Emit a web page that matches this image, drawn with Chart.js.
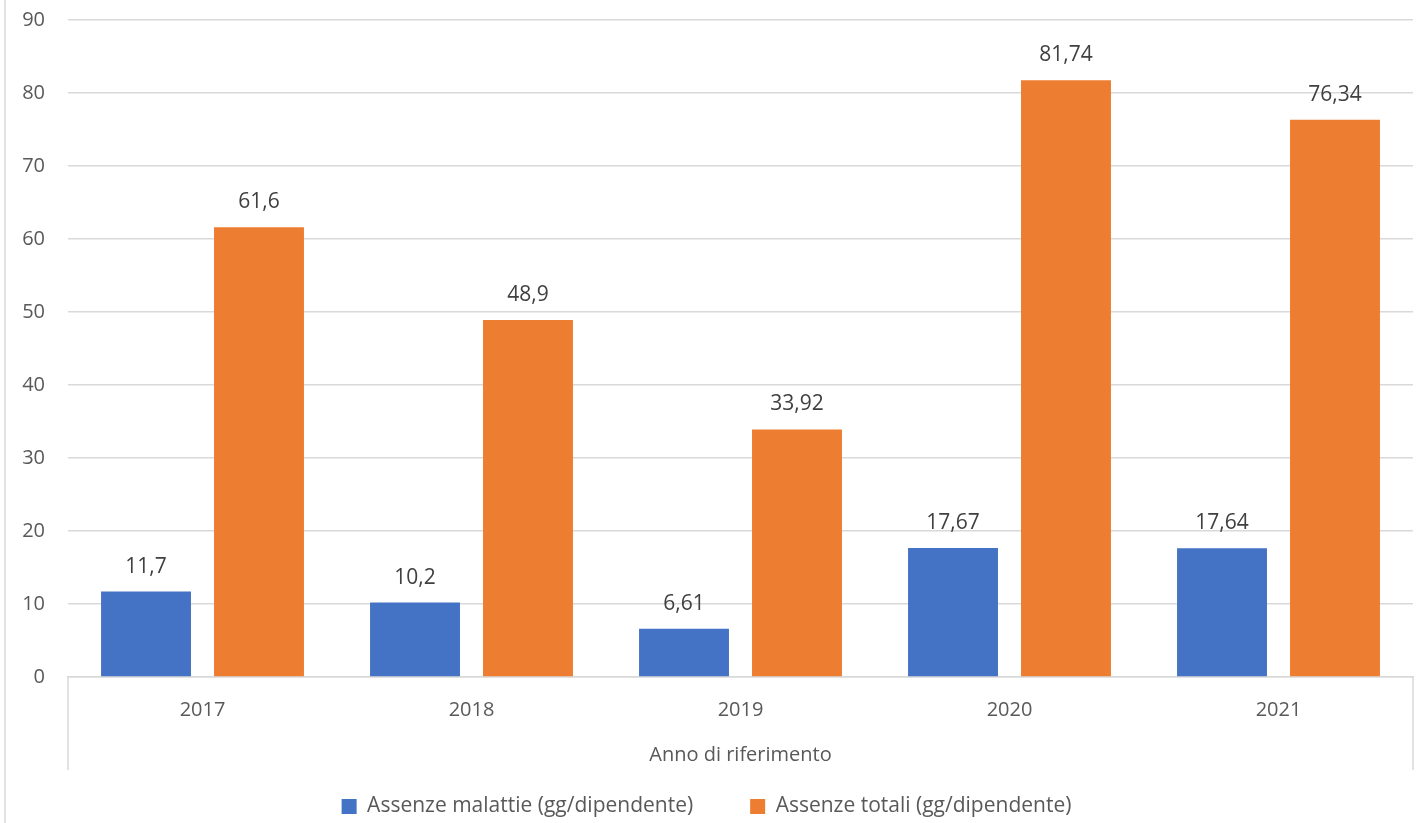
<!DOCTYPE html>
<html><head><meta charset="utf-8">
<script src="https://cdn.jsdelivr.net/npm/chart.js@4/dist/chart.umd.min.js"></script>
<style>html,body{margin:0;padding:0;background:#fff}#wrap{width:1425px;height:823px;position:relative}</style>
</head><body><div id="wrap"><canvas id="c"></canvas></div>
<script>
const categories = ['2017','2018','2019','2020','2021'];
const malattie = [11.7, 10.2, 6.61, 17.67, 17.64];
const totali = [61.6, 48.9, 33.92, 81.74, 76.34];
const seriesNames = ['Assenze malattie (gg/dipendente)', 'Assenze totali (gg/dipendente)'];
const xTitle = 'Anno di riferimento';

const FONT = "'Open Sans', 'Liberation Sans', sans-serif";
const TXT = '#595959';
const GRID = '#d9d9d9';

const deco = {
  id: 'deco',
  beforeDraw(chart) {
    const ctx = chart.ctx;
    ctx.save();
    ctx.strokeStyle = GRID; ctx.lineWidth = 1.5;
    ctx.beginPath(); ctx.moveTo(5, 0); ctx.lineTo(5, chart.height); ctx.stroke();
    const a = chart.chartArea;
    ctx.beginPath();
    ctx.moveTo(a.left, a.bottom); ctx.lineTo(a.left, a.bottom + 93);
    ctx.moveTo(a.right, a.bottom); ctx.lineTo(a.right, a.bottom + 93);
    ctx.stroke();
    ctx.restore();
  },
  afterDatasetsDraw(chart) {
    const ctx = chart.ctx;
    ctx.save();
    ctx.font = '21px ' + FONT;
    ctx.fillStyle = '#404040';
    ctx.textAlign = 'center';
    ctx.textBaseline = 'middle';
    chart.data.datasets.forEach((ds, i) => {
      chart.getDatasetMeta(i).data.forEach((bar, j) => {
        ctx.fillText(String(ds.data[j]).replace('.', ','), bar.x, bar.y - 25);
      });
    });
    ctx.restore();
  }
};

new Chart(document.getElementById('c'), {
  type: 'bar',
  data: {
    labels: categories,
    datasets: [
      { label: seriesNames[0], data: malattie, backgroundColor: '#4472c4' },
      { label: seriesNames[1], data: totali, backgroundColor: '#ed7d31' }
    ]
  },
  options: {
    responsive: true, maintainAspectRatio: false, animation: false,
    devicePixelRatio: 1,
    layout: { padding: { left: 0, right: 12, top: 20, bottom: -4 } },
    datasets: { bar: { categoryPercentage: 0.84, barPercentage: 0.796 } },
    plugins: {
      legend: {
        position: 'bottom',
        labels: { font: { family: FONT, size: 21 }, color: TXT, boxWidth: 15, boxHeight: 15, padding: 57 }
      },
      tooltip: { enabled: false }
    },
    scales: {
      y: {
        min: 0, max: 90,
        ticks: { stepSize: 10, font: { family: FONT, size: 20 }, color: TXT, padding: 23 },
        grid: { color: GRID, lineWidth: 1.5, drawTicks: false },
        border: { display: false },
        afterFit(s) { s.width = 68; s.paddingTop = 0; s.paddingBottom = 0; }
      },
      x: {
        ticks: { font: { family: FONT, size: 20 }, color: TXT, padding: 13 },
        grid: { display: false },
        border: { color: GRID, width: 1.5 },
        title: { display: true, text: xTitle, font: { family: FONT, size: 20 }, color: TXT, padding: { top: 0, bottom: -28 } },
        afterFit(s) { s.height = 62; }
      }
    }
  },
  plugins: [deco]
});
</script></body></html>
